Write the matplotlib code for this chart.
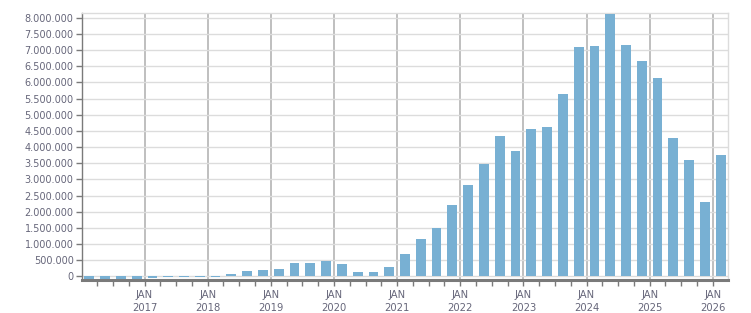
import matplotlib
matplotlib.use("Agg")
import matplotlib.pyplot as plt
from matplotlib.ticker import FuncFormatter, MultipleLocator, FixedLocator

quarters = [
    "2016Q1", "2016Q2", "2016Q3", "2016Q4",
    "2017Q1", "2017Q2", "2017Q3", "2017Q4",
    "2018Q1", "2018Q2", "2018Q3", "2018Q4",
    "2019Q1", "2019Q2", "2019Q3", "2019Q4",
    "2020Q1", "2020Q2", "2020Q3", "2020Q4",
    "2021Q1", "2021Q2", "2021Q3", "2021Q4",
    "2022Q1", "2022Q2", "2022Q3", "2022Q4",
    "2023Q1", "2023Q2", "2023Q3", "2023Q4",
    "2024Q1", "2024Q2", "2024Q3", "2024Q4",
    "2025Q1", "2025Q2", "2025Q3", "2025Q4",
    "2026Q1",
]
values = [
    -110000, -110000, -70000, -68000,
    -37000, -15000, -12000, -12000,
    -10000, 85000, 180000, 210000,
    240000, 417000, 420000, 480000,
    386000, 140000, 140000, 294000,
    696000, 1160000, 1500000, 2210000,
    2830000, 3480000, 4340000, 3880000,
    4560000, 4620000, 5640000, 7100000,
    7130000, 8120000, 7160000, 6660000,
    6140000, 4280000, 3600000, 2300000,
    3760000,
]
year_ticks = [2017, 2018, 2019, 2020, 2021, 2022, 2023, 2024, 2025, 2026]
year_labels = ["JAN\n2017", "JAN\n2018", "JAN\n2019", "JAN\n2020", "JAN\n2021",
               "JAN\n2022", "JAN\n2023", "JAN\n2024", "JAN\n2025", "JAN\n2026"]

bar_color = "#78b0d3"
text_color = "#66667a"

def qpos(q):
    y = int(q[:4]); n = int(q[5])
    return y + (n - 1) * 0.25 + 0.125

x = [qpos(q) for q in quarters]

fig = plt.figure(figsize=(7.51, 3.13), dpi=100)
ax = fig.add_axes([82/751, 1 - 280/313, (728 - 82)/751, (280 - 13)/313])

ax.bar(x, values, width=0.155, color=bar_color, zorder=3)

ax.set_xlim(x[0] - 0.115, x[-1] + 0.115)
ax.set_ylim(-110000, 8150000)

ax.yaxis.set_major_locator(MultipleLocator(500000))
ax.yaxis.set_major_formatter(FuncFormatter(lambda v, p: f"{int(v):,}".replace(",", ".")))
ax.xaxis.set_major_locator(FixedLocator(year_ticks))
ax.set_xticklabels(year_labels)
ax.xaxis.set_minor_locator(MultipleLocator(0.25))

ax.grid(axis="y", color="#dcdcdc", linewidth=1.0, zorder=0)
ax.grid(axis="x", which="major", color="#b4b4b4", linewidth=1.2, zorder=1)

for s in ["top", "right"]:
    ax.spines[s].set_color("#dcdcdc")
    ax.spines[s].set_linewidth(1.0)
ax.spines["left"].set_color("#7a7a7a")
ax.spines["left"].set_linewidth(1.0)
ax.spines["bottom"].set_color("#7a7a7a")
ax.spines["bottom"].set_linewidth(2.2)
ax.spines["bottom"].set_zorder(5)

ax.tick_params(axis="y", length=4, width=1, color="#7a7a7a", labelsize=7, labelcolor=text_color, pad=2)
ax.tick_params(axis="x", which="both", length=4, width=1, color="#7a7a7a", labelsize=7.2, labelcolor=text_color, pad=3)
for lab in ax.get_xticklabels():
    lab.set_linespacing(1.45)

fig.savefig("out.png", dpi=100)
